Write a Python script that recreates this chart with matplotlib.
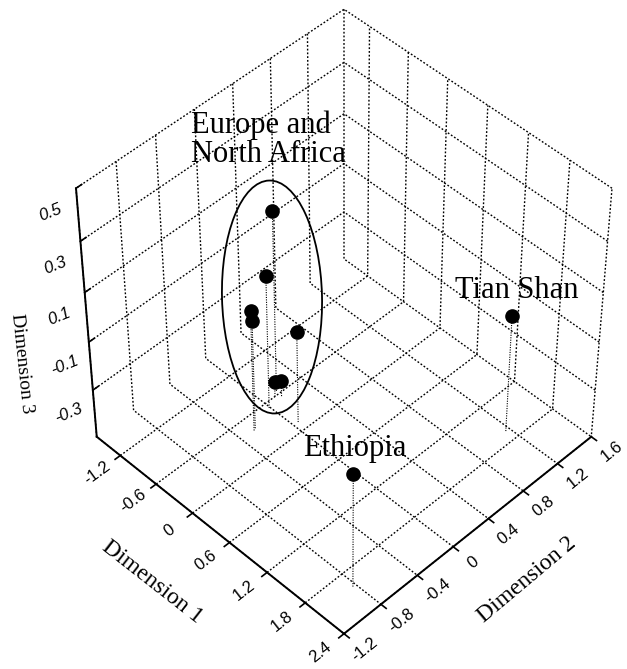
import numpy as np
import matplotlib
matplotlib.use("Agg")
import matplotlib.pyplot as plt
from matplotlib.patches import Ellipse
from mpl_toolkits.mplot3d import proj3d

# ---------------- data ----------------
dim1 = [-0.65, -0.52, -0.395, -0.41, -0.13, -0.60, -0.55, 2.01, 1.65]
dim2 = [0.16, -0.01, -0.263, -0.24, 0.05, 0.11, 0.15, -0.83, 1.16]
dim3 = [0.24, 0.05, 0.00, -0.05, -0.12, -0.436, -0.436, -0.02, -0.015]

group_labels = ["Europe and\nNorth Africa", "Tian Shan", "Ethiopia"]

x_ticks = [-1.2, -0.6, 0, 0.6, 1.2, 1.8, 2.4]
x_ticklabels = ["-1.2", "-0.6", "0", "0.6", "1.2", "1.8", "2.4"]
y_ticks = [-1.2, -0.8, -0.4, 0, 0.4, 0.8, 1.2, 1.6]
y_ticklabels = ["-1.2", "-0.8", "-0.4", "0", "0.4", "0.8", "1.2", "1.6"]
z_ticks = [-0.3, -0.1, 0.1, 0.3, 0.5]
z_ticklabels = ["-0.3", "-0.1", "0.1", "0.3", "0.5"]
x_lim = (-1.6, 2.4)
y_lim = (-1.2, 1.6)
z_lim = (-0.5, 0.5)
axis_titles = ["Dimension 1", "Dimension 2", "Dimension 3"]

# ---------------- style ----------------
W, H = 627, 669
dots = (0, (1.3, 1.4))
plt.rcParams["grid.color"] = "black"
plt.rcParams["grid.linestyle"] = dots
plt.rcParams["grid.linewidth"] = 1.0
serif = ["Liberation Serif", "DejaVu Serif"]
sans = ["Liberation Sans", "DejaVu Sans"]

fig = plt.figure(figsize=(W / 100, H / 100), dpi=100)
ax = fig.add_axes([0, 0, 1, 1], projection="3d", proj_type="persp", focal_length=1)
ax.set_xlim(*x_lim)
ax.set_ylim(*y_lim)
ax.set_zlim(*z_lim)
ax.set_box_aspect((1, 1, 1))
ax.view_init(elev=47, azim=-45)

ax.set_xticks(x_ticks)
ax.set_yticks(y_ticks)
ax.set_zticks(z_ticks)
ax.zaxis.set_ticks_position("lower")

for axis in (ax.xaxis, ax.yaxis, ax.zaxis):
    axis.set_pane_color((1, 1, 1, 0))
    axis.pane.set_edgecolor("black")
    axis.pane.set_linestyle(dots)
    axis.pane.set_linewidth(1.0)
    axis.line.set_color("black")
    axis.line.set_linewidth(1.4)
    axis._axinfo["tick"]["inward_factor"] = 0.25
    axis._axinfo["tick"]["outward_factor"] = 0.0
    axis._axinfo["tick"]["linewidth"] = {True: 1.2, False: 0.8}
    axis._axinfo["grid"].update({"color": "black", "linewidth": 1.0,
                                 "linestyle": dots})
    axis.set_major_formatter(plt.NullFormatter())
    for t in axis.get_major_ticks():
        t.label1.set_visible(False)
        t.label2.set_visible(False)
# z ticks sit on the near-left edge: point them into the left wall
ax.zaxis._axinfo["tick"]["inward_factor"] = 0.0
ax.zaxis._axinfo["tick"]["outward_factor"] = 0.25

# points and drop lines
for x, y, z in zip(dim1, dim2, dim3):
    ax.plot([x, x], [y, y], [z_lim[0], z], color="black", lw=0.8,
            ls=(0, (1, 1.2)))
ax.plot(dim1, dim2, dim3, ls="none", marker="o", ms=9.5, mfc="black",
        mec="black")

# ---- fit the cube to the target frame (pixel box) ----
fig.canvas.draw()
M = ax.get_proj()
cx, cy, cz = [a.ravel() for a in np.meshgrid(x_lim, y_lim, z_lim)]
px, py, _ = proj3d.proj_transform(cx, cy, cz, M)
disp = ax.transData.transform(np.column_stack([px, py]))
pos = ax.get_position()
S0 = pos.width * W
relx = (disp[:, 0] - pos.x0 * W) / S0
rely = (disp[:, 1] - pos.y0 * H) / S0
tx0, tx1 = 76, 612
ty_top, ty_bot = 8, 635
S = (tx1 - tx0) / (relx.max() - relx.min())
X0 = tx0 - S * relx.min()
cyt = H - (ty_top + ty_bot) / 2
Y0 = cyt - S * (rely.min() + rely.max()) / 2
ax.set_position([X0 / W, Y0 / H, S / W, S / H])
fig.canvas.draw()
M = ax.get_proj()


def to_pixels(x, y, z):
    X, Y, _ = proj3d.proj_transform(np.array([x]), np.array([y]),
                                    np.array([z]), M)
    return ax.transData.transform([[X[0], Y[0]]])[0]


def label_at(p, direction, s, **kw):
    a = to_pixels(*p)
    b = to_pixels(*(np.array(p) + np.array(direction)))
    ang = np.degrees(np.arctan2(b[1] - a[1], b[0] - a[0]))
    fig.text(a[0] / W, a[1] / H, s, rotation=ang, ha="center", va="center",
             rotation_mode="anchor", **kw)


# tick labels placed next to the axes, MATLAB style
for v, s in zip(x_ticks, x_ticklabels):
    label_at((v, y_lim[0] - 0.25, z_lim[0]), (0, 0.01, 0), s,
             fontsize=12, family=sans)
for v, s in zip(y_ticks, y_ticklabels):
    label_at((x_lim[1] + 0.31, v, z_lim[0]), (0, 0.01, 0), s,
             fontsize=12, family=sans)
for v, s in zip(z_ticks, z_ticklabels):
    label_at((x_lim[0], y_lim[0] - 0.26, v - 0.025), (0.01, 0.026, 0), s,
             fontsize=12, family=sans, style="italic")

# ---- annotations ----
fig.text(191 / W, 1 - 162 / H, group_labels[0], fontsize=22, family=serif,
         ha="left", va="baseline", linespacing=1.0)
fig.text(455 / W, 1 - 298 / H, group_labels[1], fontsize=22, family=serif,
         ha="left", va="baseline")
fig.text(303 / W, 1 - 456 / H, group_labels[2], fontsize=22, family=serif,
         ha="left", va="baseline")
fig.add_artist(Ellipse((272 / W, 1 - 297 / H), 100 / W, 233 / H, angle=1.5,
                       transform=fig.transFigure, fill=False, lw=1.3,
                       ec="black"))

fig.text(152 / W, 1 - 582 / H, axis_titles[0], fontsize=17, family=serif,
         ha="center", va="center", rotation=-38, rotation_mode="anchor")
fig.text(527 / W, 1 - 580 / H, axis_titles[1], fontsize=17, family=serif,
         ha="center", va="center", rotation=40, rotation_mode="anchor")
fig.text(22 / W, 1 - 363 / H, axis_titles[2], fontsize=14, family=serif,
         ha="center", va="center", rotation=-84, rotation_mode="anchor")

fig.savefig("out.png", dpi=100)
